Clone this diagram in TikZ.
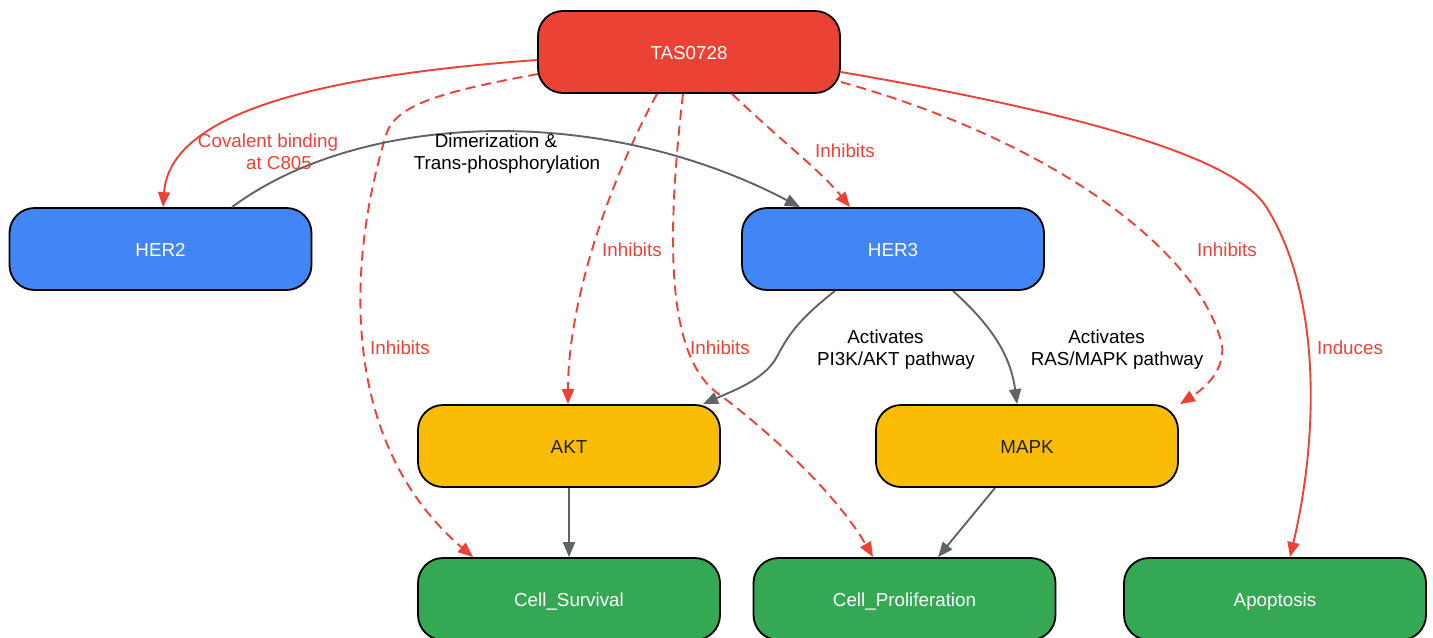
\documentclass[tikz,border=0pt]{standalone}
\usepackage{fontspec}
\setmainfont{Liberation Sans}
\usetikzlibrary{arrows.meta,calc}
\definecolor{cred}{HTML}{EA4335}
\definecolor{cblue}{HTML}{4285F4}
\definecolor{cyellow}{HTML}{FBBC05}
\definecolor{cgreen}{HTML}{34A853}
\definecolor{cgray}{HTML}{5F6368}
\definecolor{cdark}{HTML}{202124}
\begin{document}
\begin{tikzpicture}[x=0.5pt,y=-0.5pt,
  font=\fontsize{9.4pt}{11pt}\selectfont,
  box/.style={draw=black,line width=0.9pt,rounded corners=12.5pt,minimum width=151pt,minimum height=41pt,inner sep=0pt,text height=8.2pt,text depth=0.5pt},
  redbox/.style={box,fill=cred,text=white},
  bluebox/.style={box,fill=cblue,text=white},
  yelbox/.style={box,fill=cyellow,text=cdark},
  greenbox/.style={box,fill=cgreen,text=white},
  tip/.style={-{Triangle[length=7.5pt,width=6pt]}},
  inh/.style={tip,draw=cred,line width=0.95pt,dash pattern=on 5pt off 3pt},
  ind/.style={tip,draw=cred,line width=0.95pt},
  act/.style={tip,draw=cgray,line width=0.95pt},
  rlab/.style={text=cred,align=center,inner sep=1pt},
  blab/.style={text=black,align=center,inner sep=1pt}]
\useasboundingbox (0,0) rectangle (1433,637);
\node[redbox] (tas) at (689,52) {TAS0728};
\node[bluebox] (her2) at (160.5,249) {HER2};
\node[bluebox] (her3) at (893,249) {HER3};
\node[yelbox] (akt) at (569,446) {AKT};
\node[yelbox] (mapk) at (1027,446) {MAPK};
\node[greenbox] (cs) at (569,599) {Cell\_Survival};
\node[greenbox] (cp) at (904.5,599) {Cell\_Proliferation};
\node[greenbox] (apo) at (1275,599) {Apoptosis};

% TAS -> HER2
\draw[ind] ($(tas.west)+(0,8)$) .. controls (330,75) and (170,110) .. ($(her2.north)+(2.5,0)$);
% TAS -> Cell_Survival
\draw[inh] ($(tas.west)+(1,22)$) .. controls (440,92) and (395,105) .. (386,135)
  .. controls (345,270) and (342,445) .. ($(cs.north)+(-96,0)$);
% TAS -> AKT
\draw[inh] ($(tas.south)+(-32,0)$) .. controls (610,180) and (568,300) .. ($(akt.north)+(-1,0)$);
% TAS -> Cell_Proliferation
\draw[inh] ($(tas.south)+(-6,0)$) .. controls (665,250) and (668,360) .. (720,395)
  .. controls (780,440) and (840,500) .. ($(cp.north)+(-31.5,0)$);
% TAS -> HER3
\draw[inh] ($(tas.south)+(43,0)$) .. controls (780,140) and (820,170) .. ($(her3.north)+(-43,0)$);
% TAS -> MAPK
\draw[inh] ($(tas.east)+(0,30)$) .. controls (1050,140) and (1200,250) .. (1222,345)
  .. controls (1225,370) and (1205,388) .. ($(mapk.north)+(153,0)$);
% TAS -> Apoptosis
\draw[ind] ($(tas.east)+(0,20)$) .. controls (1150,125) and (1240,170) .. (1265,205)
  .. controls (1320,290) and (1320,430) .. ($(apo.north)+(15,0)$);
% HER2 -> HER3
\draw[act] ($(her2.north)+(71.5,0)$) .. controls (360,112) and (600,102) .. ($(her3.north)+(-93,0)$);
% HER3 -> AKT
\draw[act] ($(her3.south)+(-58,0)$) .. controls (790,326) and (785,343) .. (775,360)
  .. controls (762,380) and (735,390) .. ($(akt.north)+(134,0)$);
% HER3 -> MAPK
\draw[act] ($(her3.south)+(60,0)$) .. controls (985,320) and (1010,350) .. ($(mapk.north)+(-10,0)$);
% AKT -> Cell_Survival
\draw[act] (akt.south) -- (cs.north);
% MAPK -> Cell_Proliferation
\draw[act] ($(mapk.south)+(-32,0)$) -- ($(cp.north)+(33.5,0)$);

% labels
\node[rlab] (l1) at (268,152) {Covalent binding\\\hspace*{11pt}at C805};
\node[rlab] (l2) at (400,348) {Inhibits};
\node[rlab] (l3) at (632,250) {Inhibits};
\node[rlab] (l4) at (720,348) {Inhibits};
\node[rlab] (l5) at (845,151) {Inhibits};
\node[rlab] (l6) at (1227,250) {Inhibits};
\node[rlab] (l7) at (1350,348) {Induces};
\node[blab] (l8) at (507,154) {Dimerization \&\hspace*{11pt}\\Trans-phosphorylation};
\node[blab] (l9) at (896,350) {Activates\hspace*{10.5pt}\\PI3K/AKT pathway};
\node[blab] (l10) at (1117,350) {Activates\hspace*{10.5pt}\\RAS/MAPK pathway};
\end{tikzpicture}
\end{document}
